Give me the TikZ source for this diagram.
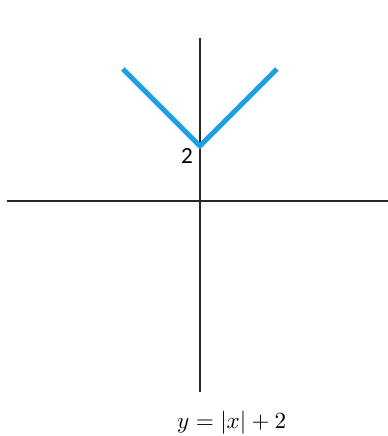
\documentclass[tikz,border=0pt]{standalone}
\usepackage{fontspec}
\newfontfamily\labelfont{Carlito}
\definecolor{graphblue}{RGB}{27,161,226}
\definecolor{axisgrey}{RGB}{40,40,40}
\begin{document}
\begin{tikzpicture}[x=0.5cm,y=0.5cm,
  axis/.style={axisgrey,line width=0.8pt},
  curve/.style={graphblue,line width=2.6pt,line join=miter},
  lbl/.style={font=\labelfont\large,inner sep=1pt}]
\useasboundingbox (-7.27,-8.55) rectangle (6.84,7.31);
% axes
\coordinate (xl) at (-7.02,0);
\coordinate (xr) at (6.84,0);
\coordinate (yt) at (0,5.93);
\coordinate (yb) at (0,-6.95);
\draw[axis] (xl) -- (xr);
\draw[axis] (yt) -- (yb);
% graph of y=|x|+2
\coordinate (v) at (0,2);
\coordinate (l) at (-2.8,4.8);
\coordinate (r) at (2.8,4.8);
\draw[curve] (l) -- (v) -- (r);
\node[lbl] (two) at (-0.47,1.64) {2};
\node[scale=1.2] (cap) at (1.16,-8.07) {$y=|x|+2$};
\end{tikzpicture}
\end{document}
